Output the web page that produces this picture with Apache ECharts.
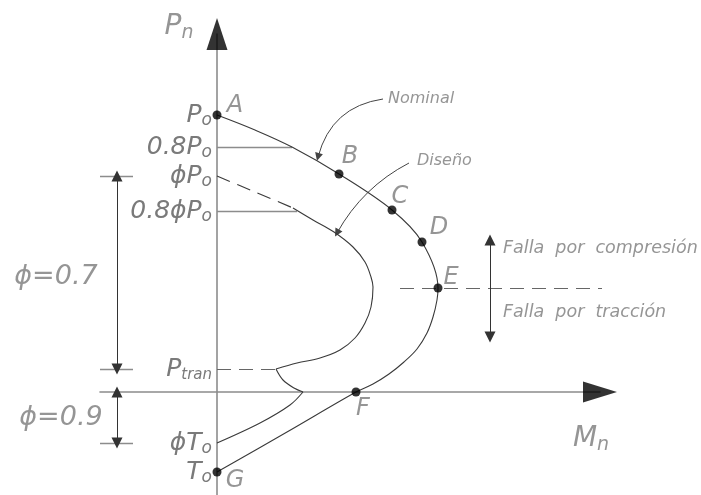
<!DOCTYPE html>
<html>
<head>
<meta charset="utf-8">
<script src="https://cdn.jsdelivr.net/npm/echarts@6/dist/echarts.min.js"></script>
<style>
  html, body { margin: 0; padding: 0; background: #fff; }
  #chart { width: 701px; height: 495px; }
</style>
</head>
<body>
<div id="chart"></div>
<script>
// P–M interaction diagram: nominal strength curve and reduced design curve

// Axis extents (moment Mn to the right, axial load Pn upwards)
const mMin = -117, mMax = 383;
const pMin = -103, pMax = 358;

// Nominal curve, from pure compression (A) to pure tension (G)
const nominalCurve = [
  [0, 277], [38, 262], [75, 245], [122, 218], [175, 182], [205, 150],
  [221, 104], [220, 92], [216, 75], [210, 59], [200, 43], [187, 30],
  [172, 18], [156, 8], [139, 0], [70, -40], [0, -80]
];

// Characteristic points on the nominal curve
const keyPoints = [
  ['A', 0, 277], ['B', 122, 218], ['C', 175, 182], ['D', 205, 150],
  ['E', 221, 104], ['F', 139, 0], ['G', 0, -80]
];

// Design curve pieces
const designTop = [[0, 216], [38, 200], [76, 184]];
const designUpper = [
  [76, 184], [96, 172], [117, 160], [136, 145], [148, 130], [154, 115],
  [156, 105], [154, 85], [148, 69], [138, 54], [123, 42], [103, 34],
  [80, 29], [59, 23]
];
const designKnee = [[59, 23], [66, 12], [77, 4], [86, 0]];
const designLower = [[86, 0], [73, -13], [43, -31], [0, -51]];

// Load levels marked on the Pn axis
const levelValues = [277, 245, 216, 181, 23, -51, -80];
const levelLabels = [
  ['P', 'o'], ['0.8P', 'o'], ['ϕP', 'o'], ['0.8ϕP', 'o'],
  ['P', 'tran'], ['ϕT', 'o'], ['T', 'o']
];

// Caps and reference lines
const nominalCap = [[0, 245], [75, 245]];
const designCap = [[0, 181], [80, 181]];
const transitionLine = [[0, 23], [59, 23]];
const balanceLine = [[183, 104], [395, 104]];

// Strength reduction factor spans
const phiCompression = [216, 23];
const phiTension = [0, -51];
const failureSpan = [152, 55];

const FONT = 'DejaVu Sans';
const TEXT = { fontFamily: FONT, fontStyle: 'italic', fontWeight: 200, color: '#7a7a7a' };
const INK = '#3a3a3a';
const AXIS = '#8c8c8c';

const richSub = {
  m: Object.assign({}, TEXT, { fontSize: 25, lineHeight: 28 }),
  s: Object.assign({}, TEXT, { fontSize: 17, lineHeight: 14, verticalAlign: 'bottom' }),
  t: Object.assign({}, TEXT, { fontSize: 15, lineHeight: 10, verticalAlign: 'bottom' }),
  big: Object.assign({}, TEXT, { fontSize: 28, lineHeight: 32 }),
  bigs: Object.assign({}, TEXT, { fontSize: 19, lineHeight: 14, verticalAlign: 'bottom' }),
  letter: Object.assign({}, TEXT, { fontSize: 24 }),
  note: Object.assign({}, TEXT, { fontSize: 16 }),
  fail: Object.assign({}, TEXT, { fontSize: 17.5 }),
  phi: Object.assign({}, TEXT, { fontSize: 27 })
};

const letterOffset = {
  A: [18, -9], B: [11, -17], C: [8, -13], D: [17, -14],
  E: [13, -10], F: [7, 17], G: [18, 9]
};

function segment(coords, style) {
  return { coords: coords, lineStyle: style || {} };
}

function note(text, x, y, position) {
  return {
    value: [x, y],
    label: { formatter: text, position: position || 'right', distance: 0 }
  };
}

const chart = echarts.init(document.getElementById('chart'));

chart.setOption({
  animation: false,
  grid: { left: 100, right: 101, top: 34, bottom: 0 },
  xAxis: {
    type: 'value', min: mMin, max: mMax,
    axisLine: { onZero: true, lineStyle: { color: AXIS, width: 1.6 } },
    axisTick: { show: false }, axisLabel: { show: false }, splitLine: { show: false }
  },
  yAxis: {
    type: 'value', min: pMin, max: pMax,
    // the Pn axis sits at Mn = 0, carrying its level labels with it
    offset: mMin,
    axisLine: { onZero: false, lineStyle: { color: AXIS, width: 1.6 } },
    axisTick: { show: false }, splitLine: { show: false },
    axisLabel: {
      customValues: levelValues,
      margin: 5,
      formatter: function (v) {
        const i = levelValues.indexOf(v);
        if (i < 0) return '';
        const pair = levelLabels[i];
        const subStyle = pair[1].length > 1 ? 't' : 's';
        return '{m|' + pair[0] + '}{' + subStyle + '|' + pair[1] + '}';
      },
      rich: richSub
    }
  },
  series: [
    // Axis arrowheads
    {
      type: 'scatter', silent: true, clip: false, z: 5,
      symbol: 'triangle', itemStyle: { color: '#000' },
      data: [
        { value: [0, pMax], symbolSize: [21, 32] },
        { value: [mMax, 0], symbolSize: [21, 34], symbolRotate: -90 }
      ]
    },
    // Horizontal caps and reference lines
    {
      type: 'lines', coordinateSystem: 'cartesian2d', silent: true,
      lineStyle: { color: AXIS, width: 1.3, opacity: 1 },
      data: [segment(nominalCap), segment(designCap)]
    },
    {
      type: 'lines', coordinateSystem: 'cartesian2d', silent: true,
      lineStyle: { color: '#666', width: 1.1, opacity: 1, type: [14, 8] },
      data: [segment(transitionLine), segment(balanceLine)]
    },
    // Extension lines of the phi spans
    {
      type: 'lines', coordinateSystem: 'cartesian2d', silent: true,
      lineStyle: { color: AXIS, width: 1.3, opacity: 1 },
      data: [
        segment([[mMin, phiCompression[0]], [mMin + 33, phiCompression[0]]]),
        segment([[mMin, phiCompression[1]], [mMin + 33, phiCompression[1]]]),
        segment([[mMin, phiTension[1]], [mMin + 33, phiTension[1]]])
      ]
    },
    // Double-headed span arrows
    {
      type: 'lines', coordinateSystem: 'cartesian2d', silent: true,
      symbol: ['triangle', 'triangle'], symbolSize: 11,
      lineStyle: { color: '#333', width: 1, opacity: 1 },
      data: [
        segment([[-100, phiCompression[0]], [-100, phiCompression[1]]]),
        segment([[-100, phiTension[0]], [-100, phiTension[1]]]),
        segment([[273, failureSpan[0]], [273, failureSpan[1]]])
      ]
    },
    // Leaders from the curve names
    {
      type: 'lines', coordinateSystem: 'cartesian2d', silent: true,
      symbol: ['none', 'triangle'], symbolSize: 8,
      lineStyle: { color: '#444', width: 1, opacity: 1 },
      data: [
        segment([[166, 293], [101, 235]], { curveness: -0.33 }),
        segment([[192, 229], [120, 159]], { curveness: -0.15 })
      ]
    },
    // Nominal curve
    {
      name: 'Nominal', type: 'line', data: nominalCurve, smooth: 0.35,
      symbol: 'none', lineStyle: { color: INK, width: 1.1 }, z: 3
    },
    // Design curve
    {
      name: 'Diseño', type: 'line', data: designTop, smooth: 0.3,
      symbol: 'none', lineStyle: { color: INK, width: 1.1, type: [14, 8] }, z: 3
    },
    {
      type: 'line', data: designUpper, smooth: 0.35,
      symbol: 'none', lineStyle: { color: INK, width: 1.1 }, z: 3
    },
    {
      type: 'line', data: designKnee, smooth: 0.35,
      symbol: 'none', lineStyle: { color: INK, width: 1.1 }, z: 3
    },
    {
      type: 'line', data: designLower, smooth: 0.35,
      symbol: 'none', lineStyle: { color: INK, width: 1.1 }, z: 3
    },
    // Characteristic points A..G
    {
      type: 'scatter', z: 6, symbol: 'circle', symbolSize: 9,
      itemStyle: { color: '#000' },
      label: {
        show: true, position: 'inside', formatter: '{letter|{b}}', rich: richSub
      },
      data: keyPoints.map(function (p) {
        return { name: p[0], value: [p[1], p[2]], label: { offset: letterOffset[p[0]] } };
      })
    },
    // Annotations
    {
      type: 'scatter', clip: false, silent: true, symbolSize: 0, z: 6,
      label: { show: true, rich: richSub },
      data: [
        note('{note|Nominal}', 171, 293),
        note('{note|Diseño}', 200, 231),
        note('{fail|Falla  por  compresión}', 286, 144),
        note('{fail|Falla  por  tracción}', 286, 80),
        note('{phi|ϕ=0.7}', -161, 115, 'inside'),
        note('{phi|ϕ=0.9}', -156, -26, 'inside'),
        note('{big|P}{bigs|n}', -38, 365, 'inside'),
        note('{big|M}{bigs|n}', 374, -47, 'inside')
      ]
    }
  ]
});
</script>
</body>
</html>
